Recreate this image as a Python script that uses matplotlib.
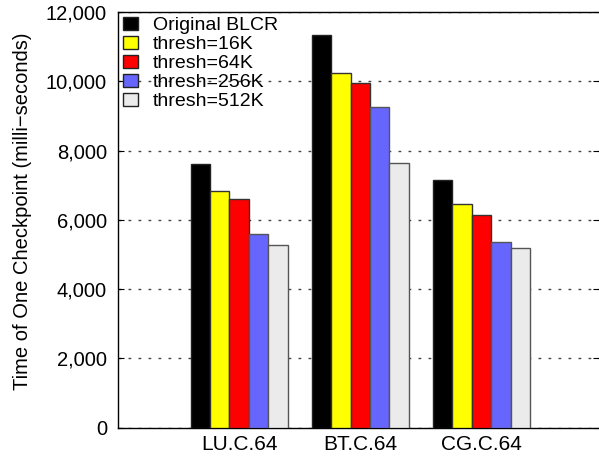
import matplotlib
matplotlib.use("Agg")
import matplotlib.pyplot as plt
import numpy as np
from matplotlib.ticker import FuncFormatter

plt.rcParams["font.family"] = ["Liberation Sans", "DejaVu Sans"]

benchmarks = ["LU.C.64", "BT.C.64", "CG.C.64"]
series = ["Original BLCR", "thresh=16K", "thresh=64K", "thresh=256K", "thresh=512K"]
original = [7610, 11340, 7140]
t16k = [6840, 10230, 6470]
t64k = [6590, 9950, 6130]
t256k = [5600, 9270, 5350]
t512k = [5270, 7640, 5180]
values = [original, t16k, t64k, t256k, t512k]

colors = ["#000000", "#ffff00", "#ff0000", "#6666ff", "#ebebeb"]
edges = ["#222222", "#333333", "#333333", "#555555", "#555555"]

fig = plt.figure(figsize=(5.99, 4.57), dpi=100)
ax = fig.add_axes([0.197, 0.064, 0.803, 0.9097])

x = np.arange(len(benchmarks))
w = 0.16
for i, (name, vals) in enumerate(zip(series, values)):
    ax.bar(x + (i - 2) * w, vals, w, color=colors[i], edgecolor=edges[i],
           linewidth=1.0, label=name, zorder=3)

ax.set_xlim(-1.0, 2.97)
ax.set_ylim(0, 12000)
ax.set_yticks(np.arange(0, 12001, 2000))
ax.yaxis.set_major_formatter(FuncFormatter(lambda v, p: f"{int(v):,}"))
ax.set_xticks(x)
ax.set_xticklabels(benchmarks)
ax.tick_params(axis="x", length=0, labelsize=15, pad=5)
ax.tick_params(axis="y", direction="in", length=4, labelsize=14.5, pad=8, right=True)
ax.yaxis.grid(True, linestyle=(0, (2, 5.2)), color="#444444", linewidth=1.0, zorder=0)
ax.spines["right"].set_visible(False)
for s in ["left", "top", "bottom"]:
    ax.spines[s].set_linewidth(1.0)

ax.set_ylabel("Time of One Checkpoint (milli\u2212seconds)", fontsize=14.5)
ax.yaxis.set_label_coords(-0.179, 0.52)

leg = ax.legend(loc="upper left", bbox_to_anchor=(0.0104, 0.989), frameon=False,
                fontsize=14, handlelength=0.77, handleheight=0.67,
                handletextpad=0.77, labelspacing=0.085, borderaxespad=0,
                borderpad=0)
for h in leg.legend_handles:
    h.set_edgecolor("#222222")

fig.savefig("out.png", dpi=100)
